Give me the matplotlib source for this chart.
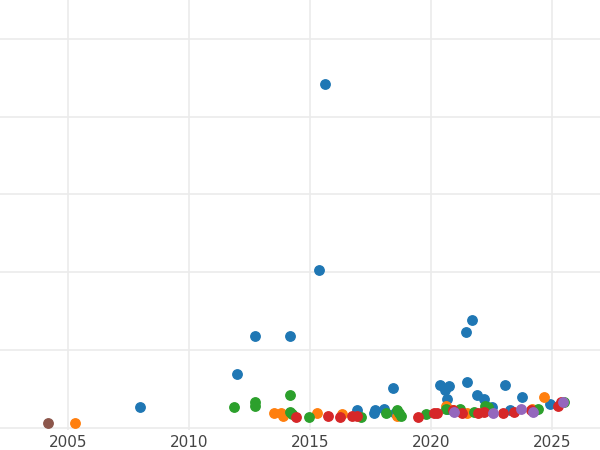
import matplotlib
matplotlib.use("Agg")
import matplotlib.pyplot as plt

blue_x = [2007.98, 2011.98, 2012.73, 2014.17, 2015.37, 2015.62, 2016.94, 2017.69, 2018.06, 2018.43,
          2020.37, 2020.58, 2020.66, 2020.74, 2021.45, 2021.69, 2021.49, 2021.90, 2022.19, 2022.52,
          2023.06, 2023.26, 2023.76, 2024.92, 2017.64, 2018.51, 2020.70, 2024.30]
blue_y = [0.30, 0.73, 1.21, 1.21, 2.06, 4.45, 0.26, 0.26, 0.27, 0.54,
          0.58, 0.52, 0.41, 0.57, 1.26, 1.42, 0.62, 0.46, 0.41, 0.30,
          0.59, 0.26, 0.43, 0.34, 0.22, 0.23, 0.28, 0.26]
orange_x = [2005.29, 2013.51, 2013.80, 2013.88, 2015.29, 2016.32, 2018.60, 2020.62, 2020.91, 2021.49,
            2022.23, 2024.67, 2024.17]
orange_y = [0.09, 0.23, 0.22, 0.19, 0.22, 0.21, 0.18, 0.32, 0.26, 0.23, 0.28, 0.43, 0.28]
green_x = [2011.86, 2012.73, 2012.73, 2014.17, 2014.17, 2014.26, 2014.96, 2017.11, 2018.14, 2018.60,
           2018.68, 2018.76, 2019.79, 2020.62, 2021.20, 2021.78, 2022.23, 2022.36, 2024.42, 2025.50]
green_y = [0.30, 0.36, 0.32, 0.45, 0.24, 0.21, 0.17, 0.17, 0.22, 0.26,
           0.22, 0.19, 0.21, 0.28, 0.28, 0.24, 0.32, 0.30, 0.28, 0.36]
red_x = [2014.42, 2015.74, 2016.24, 2016.74, 2016.94, 2019.46, 2020.12, 2020.25, 2020.91, 2021.28,
         2021.94, 2022.19, 2022.98, 2023.43, 2024.13, 2025.25, 2025.37]
red_y = [0.17, 0.18, 0.17, 0.19, 0.18, 0.17, 0.23, 0.22, 0.26, 0.23,
         0.22, 0.24, 0.23, 0.24, 0.26, 0.32, 0.37]
purple_x = [2020.95, 2022.56, 2023.72, 2024.21, 2025.45]
purple_y = [0.24, 0.22, 0.28, 0.24, 0.37]
brown_x = [2004.17]
brown_y = [0.09]

fig = plt.figure(figsize=(6, 4.5), dpi=100)
ax = fig.add_axes([0, 20 / 450, 1, 430 / 450])

size = 46
ax.scatter(blue_x, blue_y, color="#1f77b4", s=size, zorder=3)
ax.scatter(orange_x, orange_y, color="#ff7f0e", s=size, zorder=3)
ax.scatter(green_x, green_y, color="#2ca02c", s=size, zorder=3)
ax.scatter(red_x, red_y, color="#d62728", s=size, zorder=3)
ax.scatter(purple_x, purple_y, color="#9467bd", s=size, zorder=3)
ax.scatter(brown_x, brown_y, color="#8c564b", s=size, zorder=3)

# unlabeled gridlines, nudged to sit where the reference draws them
ax.set_xlim(2002.19, 2026.98)
ax.set_ylim(0.005, 5.535)
ax.set_xticks([2005, 2010, 2015, 2020, 2025])
ax.set_yticks([0.035, 1.035, 2.035, 3.035, 4.035, 5.035])
ax.set_yticklabels([])
ax.tick_params(length=0, labelsize=11, colors="#444444")
ax.grid(True, color="#ebebeb", linewidth=1.2)
ax.set_axisbelow(True)
for s in ax.spines.values():
    s.set_visible(False)

fig.savefig("out.png")
